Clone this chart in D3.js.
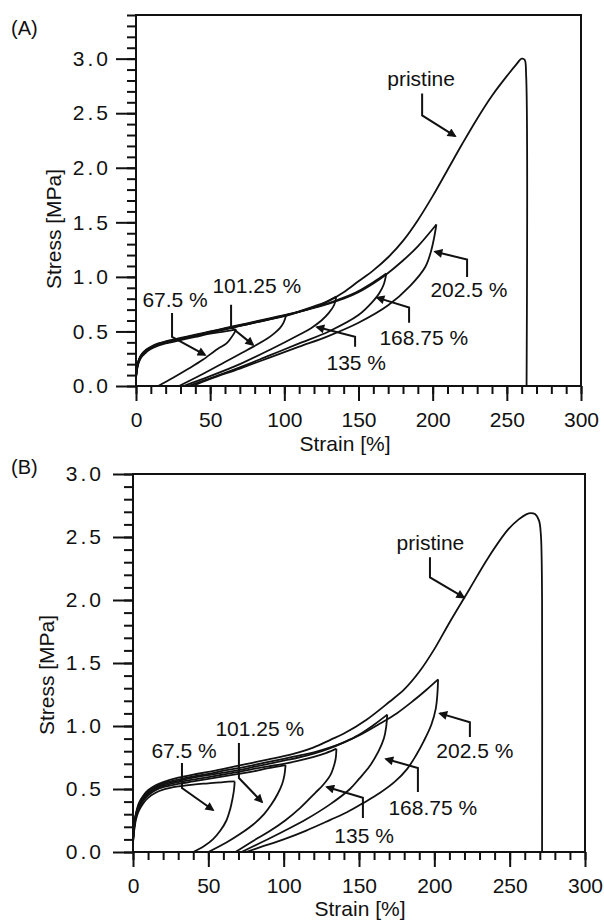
<!DOCTYPE html>
<html>
<head>
<meta charset="utf-8">
<script src="https://cdn.jsdelivr.net/npm/d3@7"></script>
<style>
    body { margin: 0; background: #fff; }
    svg text { font-family: "Liberation Sans", Arial, sans-serif; fill: #111; }
</style>
</head>
<body>
<div id="chart"></div>
<script>

// ---------- data (strain %, stress MPa) ----------
let strainTicks = [0, 50, 100, 150, 200, 250, 300];
let stressTicksA = [0, 0.5, 1.0, 1.5, 2.0, 2.5, 3.0];
let stressTicksB = [0, 0.5, 1.0, 1.5, 2.0, 2.5, 3.0];
let cycleLabels = ["67.5 %", "101.25 %", "135 %", "168.75 %", "202.5 %"];

// panel A
let pristineA = [[0,0.08],[0.5,0.14],[1,0.18],[2,0.23],[4,0.28],[7,0.32],[10,0.35],[15,0.38],[20,0.40],[30,0.43],[40,0.46],[50,0.49],[60,0.52],[70,0.55],[80,0.58],[90,0.61],[100,0.64],[110,0.68],[120,0.72],[130,0.78],[140,0.86],[150,0.96],[160,1.06],[170,1.18],[180,1.33],[190,1.52],[200,1.74],[210,1.98],[220,2.22],[230,2.45],[240,2.66],[250,2.84],[256,2.94],[260,3.0],[262,2.99],[263,2.85],[263.3,0]];
let loadA675 = [[0,0.07],[0.5,0.13],[1,0.17],[2,0.22],[4,0.27],[7,0.31],[10,0.34],[15,0.37],[20,0.39],[30,0.42],[40,0.45],[50,0.48],[60,0.50],[67.5,0.52]];
let unloadA675 = [[67.5,0.52],[66,0.48],[64,0.44],[61,0.39],[55,0.34],[45,0.24],[35,0.155],[25,0.075],[15,0]];
let loadA10125 = [[0,0.09],[0.5,0.15],[1,0.19],[2,0.24],[4,0.29],[7,0.33],[10,0.355],[15,0.385],[20,0.405],[30,0.435],[40,0.465],[50,0.495],[60,0.525],[70,0.555],[80,0.585],[90,0.615],[101.25,0.65]];
let unloadA10125 = [[101.25,0.65],[99.5,0.58],[97,0.53],[93,0.48],[88,0.43],[75,0.33],[60,0.22],[45,0.11],[29,0]];
let loadA135 = [[0,0.08],[0.5,0.145],[1,0.185],[2,0.235],[4,0.285],[7,0.325],[10,0.35],[15,0.38],[20,0.40],[30,0.43],[40,0.46],[50,0.49],[60,0.52],[70,0.55],[80,0.58],[90,0.61],[100,0.645],[110,0.685],[120,0.73],[128,0.77],[135,0.82]];
let unloadA135 = [[135,0.82],[133.5,0.74],[130,0.67],[125,0.60],[118,0.53],[110,0.47],[90,0.33],[70,0.20],[50,0.09],[32,0]];
let loadA16875 = [[0,0.085],[0.5,0.15],[1,0.19],[2,0.24],[4,0.29],[7,0.33],[10,0.355],[15,0.385],[20,0.405],[30,0.435],[40,0.465],[50,0.495],[60,0.525],[70,0.555],[80,0.585],[90,0.615],[100,0.645],[110,0.68],[120,0.72],[130,0.76],[140,0.81],[150,0.87],[160,0.95],[168.75,1.03]];
let unloadA16875 = [[168.75,1.03],[167,0.93],[164,0.85],[160,0.78],[150,0.65],[130,0.50],[110,0.39],[90,0.28],[70,0.17],[50,0.07],[35,0]];
let loadA2025 = [[0,0.09],[0.5,0.155],[1,0.195],[2,0.245],[4,0.295],[7,0.335],[10,0.36],[15,0.39],[20,0.41],[30,0.44],[40,0.47],[50,0.50],[60,0.53],[70,0.56],[80,0.59],[90,0.62],[100,0.65],[110,0.68],[120,0.715],[130,0.755],[140,0.80],[150,0.86],[160,0.94],[168,1.015],[180,1.15],[190,1.28],[202.5,1.48]];
let unloadA2025 = [[202.5,1.48],[201,1.36],[199,1.24],[195,1.09],[185,0.92],[170,0.74],[150,0.58],[130,0.46],[110,0.36],[90,0.26],[70,0.16],[50,0.065],[38,0]];

// panel B
let pristineB = [[0,0.10],[0.5,0.18],[1,0.24],[2,0.31],[4,0.39],[7,0.45],[10,0.49],[15,0.53],[20,0.555],[30,0.59],[40,0.615],[50,0.635],[60,0.66],[70,0.685],[80,0.71],[90,0.735],[100,0.76],[110,0.79],[120,0.83],[131,0.89],[140,0.94],[155,1.05],[170,1.19],[180,1.29],[190,1.43],[200,1.61],[210,1.82],[223,2.08],[236,2.34],[249,2.56],[256,2.64],[261,2.68],[264,2.69],[267,2.68],[269.5,2.63],[270.7,2.52],[271.2,2.35],[271.5,2.0],[271.5,0]];
let loadB675 = [[0,0.07],[0.5,0.14],[1,0.19],[2,0.26],[4,0.33],[7,0.39],[10,0.43],[15,0.47],[20,0.495],[30,0.52],[40,0.535],[50,0.545],[60,0.555],[67.5,0.56]];
let unloadB675 = [[67.5,0.56],[67,0.49],[66,0.42],[64.5,0.34],[62,0.25],[58,0.17],[53,0.10],[47,0.045],[40,0]];
let loadB10125 = [[0,0.08],[0.5,0.15],[1,0.21],[2,0.28],[4,0.35],[7,0.41],[10,0.45],[15,0.49],[20,0.515],[30,0.54],[40,0.56],[50,0.58],[60,0.60],[70,0.62],[80,0.64],[90,0.665],[101.25,0.69]];
let unloadB10125 = [[101.25,0.69],[100.5,0.61],[99,0.54],[96,0.46],[92,0.38],[87,0.30],[80,0.22],[72,0.15],[62,0.075],[50,0]];
let loadB135 = [[0,0.09],[0.5,0.16],[1,0.22],[2,0.29],[4,0.36],[7,0.42],[10,0.46],[15,0.50],[20,0.525],[30,0.555],[40,0.575],[50,0.595],[60,0.615],[70,0.635],[80,0.66],[90,0.68],[100,0.70],[110,0.725],[120,0.755],[128,0.785],[135,0.82]];
let unloadB135 = [[135,0.82],[134.5,0.74],[133,0.67],[131,0.61],[126,0.53],[121,0.47],[111,0.35],[101,0.25],[90,0.16],[80,0.09],[68,0]];
let loadB16875 = [[0,0.10],[0.5,0.17],[1,0.23],[2,0.30],[4,0.37],[7,0.43],[10,0.47],[15,0.51],[20,0.535],[30,0.565],[40,0.59],[50,0.61],[60,0.63],[70,0.65],[80,0.675],[90,0.70],[100,0.725],[110,0.75],[120,0.78],[130,0.82],[140,0.87],[150,0.93],[160,1.01],[168.75,1.09]];
let unloadB16875 = [[168.75,1.09],[168,0.99],[166.5,0.90],[163,0.80],[157,0.68],[150,0.58],[144,0.50],[131,0.38],[115,0.26],[100,0.165],[85,0.075],[72,0]];
let loadB2025 = [[0,0.09],[0.5,0.17],[1,0.23],[2,0.30],[4,0.38],[7,0.44],[10,0.48],[15,0.52],[20,0.545],[30,0.575],[40,0.60],[50,0.62],[60,0.645],[70,0.665],[80,0.69],[90,0.715],[100,0.74],[110,0.765],[120,0.79],[131,0.83],[140,0.87],[150,0.925],[164,1.02],[175,1.10],[186,1.20],[195,1.29],[202.5,1.37]];
let unloadB2025 = [[202.5,1.37],[202,1.25],[201,1.14],[198,1.01],[193,0.88],[188,0.77],[182,0.66],[174,0.56],[164,0.47],[153,0.39],[142,0.315],[131,0.255],[115,0.17],[100,0.10],[85,0.04],[75,0]];


/* * * * * * * * * * * * * *
*   StressStrainPanel      *
* * * * * * * * * * * * * */

class StressStrainPanel {

    constructor(svg, config) {
        this.svg = svg;
        this.config = config;
        this.initVis();
    }

    initVis() {
        let vis = this;
        let c = vis.config;

        vis.x = d3.scaleLinear().domain([0, 300]).range([c.left, c.right]);
        vis.y = d3.scaleLinear().domain([0, c.yMax]).range([c.bottom, c.top]);

        vis.g = vis.svg.append("g");

        // minor ticks
        vis.g.append("g")
            .attr("class", "axis minor")
            .attr("transform", `translate(${c.left},0)`)
            .call(d3.axisLeft(vis.y).tickValues(d3.range(0, c.yMax + 0.001, 0.1)).tickSize(9).tickFormat(""));
        vis.g.append("g")
            .attr("class", "axis minor")
            .attr("transform", `translate(0,${c.bottom})`)
            .call(d3.axisBottom(vis.x).tickValues(d3.range(0, 301, 10)).tickSize(8).tickFormat(""));

        // major ticks
        vis.g.append("g")
            .attr("class", "axis major y")
            .attr("transform", `translate(${c.left},0)`)
            .call(d3.axisLeft(vis.y).tickValues(c.yTicks).tickSize(20).tickPadding(c.yPad).tickFormat(d3.format(".1f")));
        vis.g.append("g")
            .attr("class", "axis major")
            .attr("transform", `translate(0,${c.bottom})`)
            .call(d3.axisBottom(vis.x).tickValues(strainTicks).tickSize(15).tickPadding(11).tickFormat(d3.format("d")));

        vis.g.selectAll(".axis .domain").remove();
        vis.g.selectAll(".axis line").attr("stroke", "#111").attr("stroke-width", 2);
        vis.g.selectAll(".axis text")
            .style("font-size", "21px")
            .attr("fill", "#111");
        vis.g.selectAll(".axis.y text")
            .style("letter-spacing", "3px");

        // frame
        vis.g.append("rect")
            .attr("x", c.left)
            .attr("y", c.top)
            .attr("width", c.right - c.left)
            .attr("height", c.bottom - c.top)
            .attr("fill", "none")
            .attr("stroke", "#111")
            .attr("stroke-width", 2);

        // titles
        vis.g.append("text")
            .attr("x", 11)
            .attr("y", c.panelY)
            .style("font-size", "20px")
            .text(c.panel);

        vis.g.append("text")
            .attr("transform", `translate(${c.yTitleX},${c.yTitleY}) rotate(-90)`)
            .attr("text-anchor", "middle")
            .style("font-size", "21px")
            .text("Stress [MPa]");

        vis.g.append("text")
            .attr("x", c.xTitleX)
            .attr("y", c.xTitleY)
            .attr("text-anchor", "middle")
            .style("font-size", "21px")
            .text("Strain [%]");

        vis.line = d3.line()
            .x(d => vis.x(d[0]))
            .y(d => vis.y(d[1]))
            .curve(d3.curveCatmullRom.alpha(0.5));

        vis.arrowLine = d3.line()
            .x(d => vis.x(d[0]))
            .y(d => vis.y(d[1]));

        this.updateVis();
    }

    updateVis() {
        let vis = this;
        let c = vis.config;

        vis.g.append("g")
            .selectAll("path")
            .data(c.curves)
            .enter()
            .append("path")
            .attr("d", d => vis.line(d))
            .attr("fill", "none")
            .attr("stroke", "#111")
            .attr("stroke-width", 1.8)
            .attr("stroke-linejoin", "round");

        // annotations
        let notes = vis.g.append("g").selectAll("g")
            .data(c.notes)
            .enter()
            .append("g");

        notes.append("path")
            .attr("d", d => vis.arrowLine(d.arrow))
            .attr("fill", "none")
            .attr("stroke", "#111")
            .attr("stroke-width", 2)
            .attr("marker-end", "url(#arrowhead)");

        notes.append("text")
            .attr("x", d => vis.x(d.at[0]))
            .attr("y", d => vis.y(d.at[1]))
            .attr("text-anchor", d => d.anchor)
            .style("font-size", "21px")
            .text(d => d.label);
    }
}

let svg = d3.select("#chart").append("svg")
    .attr("width", 604)
    .attr("height", 924);

svg.append("rect").attr("width", 604).attr("height", 924).attr("fill", "#fff");

svg.append("defs").append("marker")
    .attr("id", "arrowhead")
    .attr("viewBox", "0 0 10 10")
    .attr("refX", 8)
    .attr("refY", 5)
    .attr("markerWidth", 5.5)
    .attr("markerHeight", 4.5)
    .attr("orient", "auto")
    .append("path")
    .attr("d", "M0,0 L10,5 L0,10 z")
    .attr("fill", "#111");

new StressStrainPanel(svg, {
    panel: "(A)", panelY: 35,
    left: 136, right: 581, top: 15, bottom: 386, yMax: 3.4,
    yTicks: stressTicksA, yPad: 5,
    yTitleX: 61, yTitleY: 229, xTitleX: 345, xTitleY: 451,
    curves: [pristineA, loadA675, unloadA675, loadA10125, unloadA10125, loadA135, unloadA135,
             loadA16875, unloadA16875, loadA2025, unloadA2025],
    notes: [
        {label: "pristine", at: [192.2, 2.75], anchor: "middle", arrow: [[192.9, 2.68], [192.9, 2.48], [215.1, 2.29]]},
        {label: cycleLabels[0], at: [4.3, 0.72], anchor: "start", arrow: [[24.3, 0.67], [24.3, 0.45], [46.5, 0.285]]},
        {label: cycleLabels[1], at: [51.5, 0.85], anchor: "start", arrow: [[64.1, 0.745], [64.1, 0.54], [78.9, 0.377]]},
        {label: cycleLabels[2], at: [128.4, 0.147], anchor: "start", arrow: [[147.7, 0.36], [147.7, 0.45], [122, 0.54]]},
        {label: cycleLabels[3], at: [164.1, 0.377], anchor: "start", arrow: [[184.1, 0.58], [184.1, 0.72], [162.5, 0.81]]},
        {label: cycleLabels[4], at: [198.5, 0.82], anchor: "start", arrow: [[223.2, 1.0], [223.2, 1.16], [201.6, 1.23]]}
    ]
});

new StressStrainPanel(svg, {
    panel: "(B)", panelY: 474,
    left: 133, right: 585, top: 474, bottom: 852, yMax: 3.0,
    yTicks: stressTicksB, yPad: 9,
    yTitleX: 54, yTitleY: 675, xTitleX: 360, xTitleY: 916,
    curves: [pristineB, loadB675, unloadB675, loadB10125, unloadB10125, loadB135, unloadB135,
             loadB16875, unloadB16875, loadB2025, unloadB2025],
    notes: [
        {label: "pristine", at: [197.4, 2.40], anchor: "middle", arrow: [[197.1, 2.34], [197.1, 2.18], [219.6, 2.02]]},
        {label: cycleLabels[0], at: [12.2, 0.746], anchor: "start", arrow: [[32.5, 0.706], [32.5, 0.508], [53.1, 0.333]]},
        {label: cycleLabels[1], at: [54.7, 0.92], anchor: "start", arrow: [[70.3, 0.865], [70.3, 0.587], [85.6, 0.397]]},
        {label: cycleLabels[2], at: [133.6, 0.071], anchor: "start", arrow: [[152.6, 0.27], [152.6, 0.43], [128.7, 0.516]]},
        {label: cycleLabels[3], at: [169.5, 0.294], anchor: "start", arrow: [[189.1, 0.476], [189.1, 0.667], [167.9, 0.738]]},
        {label: cycleLabels[4], at: [201.3, 0.746], anchor: "start", arrow: [[223.6, 0.913], [223.6, 1.03], [203.7, 1.10]]}
    ]
});

</script>
</body>
</html>
